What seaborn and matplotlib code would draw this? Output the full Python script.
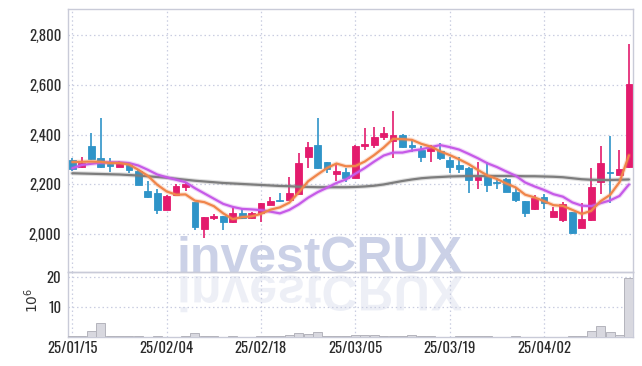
import matplotlib
matplotlib.use("Agg")
import matplotlib.pyplot as plt
import matplotlib.font_manager as fm
from matplotlib.textpath import TextPath
from matplotlib.patches import PathPatch
from matplotlib.transforms import Affine2D
import matplotlib.patheffects as pe
import seaborn as sns
import pandas as pd
import numpy as np

# ---------------- data ----------------
opens = [2299, 2272, 2356, 2306, 2282, 2272, 2279, 2255, 2174, 2166,
         2098, 2159, 2191, 2129, 2021, 2065, 2073, 2048, 2084, 2067,
         2084, 2118, 2136, 2139, 2162, 2310, 2360, 2290, 2244, 2249,
         2227, 2353, 2357, 2391, 2373, 2400, 2360, 2339, 2333, 2335,
         2299, 2279, 2268, 2218, 2229, 2208, 2222, 2171, 2133, 2100,
         2148, 2070, 2057, 2088, 2027, 2059, 2211, 2251, 2240, 2270]
closes = [2261, 2288, 2304, 2272, 2276, 2288, 2259, 2199, 2151, 2098,
          2154, 2193, 2202, 2028, 2069, 2073, 2048, 2086, 2067, 2084,
          2124, 2133, 2132, 2164, 2286, 2350, 2268, 2263, 2255, 2227,
          2356, 2361, 2391, 2407, 2400, 2349, 2349, 2312, 2349, 2308,
          2272, 2263, 2218, 2229, 2198, 2204, 2171, 2137, 2084, 2144,
          2127, 2093, 2121, 2005, 2063, 2189, 2286, 2246, 2263, 2602]
highs = [2305, 2312, 2407, 2467, 2306, 2296, 2286, 2261, 2215, 2182,
         2156, 2202, 2211, 2131, 2070, 2081, 2075, 2104, 2102, 2088,
         2126, 2151, 2167, 2229, 2326, 2369, 2467, 2292, 2283, 2268,
         2358, 2427, 2431, 2431, 2494, 2402, 2377, 2353, 2360, 2366,
         2310, 2310, 2270, 2290, 2290, 2227, 2225, 2191, 2135, 2158,
         2162, 2108, 2130, 2090, 2124, 2265, 2353, 2393, 2337, 2764]
lows = [2255, 2268, 2299, 2268, 2252, 2270, 2248, 2199, 2147, 2080,
        2096, 2157, 2172, 2019, 1987, 2059, 2019, 2046, 2061, 2060,
        2050, 2116, 2130, 2137, 2160, 2265, 2263, 2248, 2215, 2211,
        2225, 2339, 2346, 2377, 2306, 2347, 2330, 2290, 2290, 2299,
        2245, 2245, 2164, 2180, 2171, 2182, 2169, 2130, 2070, 2098,
        2100, 2068, 2050, 2003, 2025, 2054, 2162, 2124, 2238, 2268]
ma5 = [2290, 2291, 2292, 2291, 2286, 2286, 2280, 2259, 2235, 2199,
       2172, 2159, 2160, 2135, 2129, 2113, 2084, 2061, 2069, 2072,
       2082, 2099, 2108, 2127, 2168, 2213, 2240, 2266, 2284, 2273,
       2274, 2292, 2318, 2348, 2383, 2382, 2379, 2363, 2352, 2333,
       2318, 2301, 2282, 2258, 2236, 2222, 2204, 2188, 2159, 2148,
       2133, 2117, 2114, 2098, 2082, 2094, 2133, 2158, 2209, 2317]
ma10 = [2265, 2278, 2283, 2287, 2289, 2289, 2286, 2276, 2259, 2240,
        2229, 2219, 2209, 2185, 2164, 2143, 2122, 2110, 2102, 2100,
        2097, 2091, 2084, 2098, 2120, 2147, 2169, 2187, 2206, 2220,
        2243, 2266, 2292, 2316, 2328, 2328, 2336, 2341, 2350, 2358,
        2350, 2340, 2323, 2305, 2285, 2270, 2252, 2235, 2208, 2192,
        2178, 2161, 2151, 2128, 2115, 2113, 2125, 2136, 2154, 2200]
ma_long = [2245, 2244, 2243, 2242, 2241, 2240, 2238, 2236, 2233, 2230,
           2227, 2223, 2219, 2215, 2212, 2209, 2206, 2204, 2202, 2200,
           2198, 2196, 2194, 2193, 2191, 2190, 2189, 2189, 2189, 2189,
           2190, 2192, 2195, 2200, 2207, 2214, 2220, 2225, 2228, 2230,
           2232, 2233, 2234, 2234, 2234, 2234, 2234, 2234, 2233, 2233,
           2232, 2231, 2229, 2225, 2221, 2219, 2218, 2218, 2219, 2220]
volume_m = [0.2, 0.3, 2.0, 4.5, 0.3, 0.3, 0.3, 0.3, 0.1, 0.3,
            0.1, 0.1, 0.4, 1.2, 0.3, 0.3, 0.1, 0.3, 0.1, 0.1,
            0.2, 0.2, 0.2, 0.8, 1.3, 0.9, 1.65, 0.3, 0.3, 0.3,
            0.5, 0.5, 0.5, 0.45, 0.45, 0.25, 0.5, 0.25, 0.25, 0.1,
            0.1, 0.25, 0.25, 0.25, 0.35, 0.1, 0.1, 0.3, 0.1, 0.1,
            0.1, 0.1, 0.1, 0.2, 0.25, 1.9, 3.5, 1.5, 0.5, 19.4]
date_tick_pos = [0, 10, 20, 30, 40, 50]
date_tick_labels = ["25/01/15", "25/02/04", "25/02/18", "25/03/05", "25/03/19", "25/04/02"]
price_ticks = [2000, 2200, 2400, 2600, 2800]
vol_ticks = [10, 20]

# ---------------- style ----------------
sns.set_style("white")
names = {f.name for f in fm.fontManager.ttflist}
TICK_FONT = dict(family=["DejaVu Sans"], weight="bold")
TICK_SIZE = 11.5
for fam, w, size in (("Oswald", "bold", 10.6), ("Fjalla One", "normal", 10.6),
                     ("Barlow Condensed", "bold", 12.0), ("Archivo Narrow", "bold", 11.5)):
    if fam in names:
        TICK_FONT = dict(family=[fam, "DejaVu Sans"], weight=w)
        TICK_SIZE = size
        break
plt.rcParams["font.family"] = ["DejaVu Sans"]

UP = "#e31b6d"
DOWN = "#2f94c8"
GRID = "#c9cde0"
SPINE = "#c9cbd8"

df = pd.DataFrame({"i": np.arange(len(closes)), "open": opens, "close": closes,
                   "high": highs, "low": lows, "ma5": ma5, "ma10": ma10,
                   "ma_long": ma_long, "vol": volume_m})
df["up"] = df["close"] >= df["open"]
df["color"] = np.where(df["up"], UP, DOWN)

W, H = 642, 366
fig = plt.figure(figsize=(W / 100, H / 100), dpi=100)
fig.patch.set_facecolor("white")
L, R, T, M, B = 68.3, 632.7, 9.3, 272.3, 337.0
ax = fig.add_axes([L / W, 1 - M / H, (R - L) / W, (M - T) / H])
axv = fig.add_axes([L / W, 1 - B / H, (R - L) / W, (B - M) / H], sharex=ax)
for a in (ax, axv):
    a.set_facecolor("none")
    for s in a.spines.values():
        s.set_color(SPINE)
        s.set_linewidth(1.0)
        s.set_visible(True)

# watermark (behind axes)
wm_color = "#c4cbe4"
fig.text(177 / W, 1 - 272 / H, "investCRUX", fontsize=36, fontweight="bold",
         family="Liberation Sans", color=wm_color, alpha=0.88,
         ha="left", va="baseline", zorder=-5)
tp = TextPath((0, 0), "investCRUX", size=36 * 100 / 72,
              prop=fm.FontProperties(family="Liberation Sans", weight="bold"))
refl = PathPatch(tp, transform=Affine2D().scale(1, -1).translate(177, H - 276),
                 facecolor=wm_color, edgecolor="none", alpha=0.3, zorder=-5)
fig.patches.append(refl)
refl.set_figure(fig)

# ---------------- candles ----------------
ax.vlines(df["i"], df["low"], df["high"], colors=df["color"], linewidth=1.2, zorder=3)
body = (df["close"] - df["open"]).abs().clip(lower=3)
ax.bar(df["i"], body, bottom=df[["open", "close"]].min(axis=1), width=0.72,
       color=df["color"], edgecolor=df["color"], linewidth=0.6, zorder=4)

# moving averages via seaborn
for col, c in (("ma_long", "#7d7d7d"), ("ma10", "#c65ae8"), ("ma5", "#f0854a")):
    sns.lineplot(data=df, x="i", y=col, ax=ax, color=c, linewidth=1.6, zorder=5,
                 path_effects=[pe.withStroke(linewidth=3.2, foreground=c, alpha=0.25)])

ax.set_xlim(-0.424, 59.40)
ax.set_ylim(1847.5, 2903)
ax.set_yticks(price_ticks)
ax.set_yticklabels([f"{v:,}" for v in price_ticks], fontsize=TICK_SIZE, color="#2b2b2b", **TICK_FONT)
ax.set_xticks(date_tick_pos)
ax.tick_params(axis="x", labelbottom=False, length=0)
ax.tick_params(axis="y", length=0, pad=5)
ax.grid(True, color=GRID, linestyle=(0, (1.2, 2.2)), linewidth=0.9)
ax.set_xlabel("")
ax.set_ylabel("")

# ---------------- volume ----------------
axv.bar(df["i"], df["vol"], width=0.96, color="#d8d8df", edgecolor="#b4b4bc",
        linewidth=0.7, zorder=3)
axv.set_ylim(0, 21.4)
axv.set_yticks(vol_ticks)
axv.set_yticklabels([str(v) for v in vol_ticks], fontsize=TICK_SIZE, color="#2b2b2b", **TICK_FONT)
axv.set_xticks(date_tick_pos)
axv.set_xticklabels(date_tick_labels, fontsize=TICK_SIZE, color="#2b2b2b", **TICK_FONT)
axv.tick_params(axis="both", length=0)
axv.tick_params(axis="y", pad=5)
axv.tick_params(axis="x", pad=3)
axv.grid(True, color=GRID, linestyle=(0, (1.2, 2.2)), linewidth=0.9)
axv.set_xlabel("")
axv.set_ylabel("")
fig.text(32 / W, 1 - 300 / H, "$10^6$", rotation=90, fontsize=10,
         color="#333333", ha="center", va="center")

fig.savefig("out.png", dpi=100, facecolor="white")
